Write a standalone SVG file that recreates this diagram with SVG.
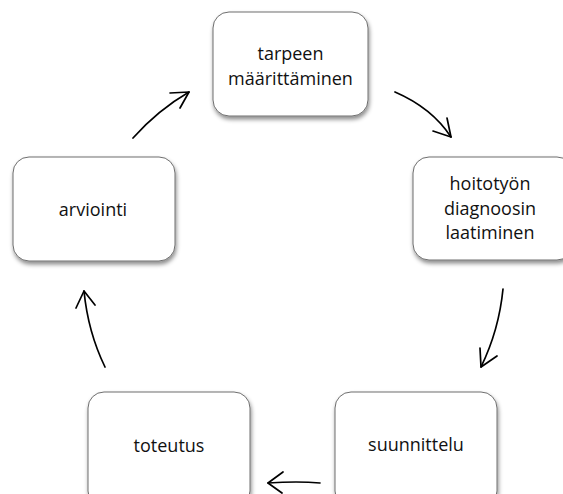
<svg xmlns="http://www.w3.org/2000/svg" width="563" height="494" viewBox="0 0 563 494">
<defs>
<filter id="sh" x="-10%" y="-10%" width="130%" height="140%">
<feDropShadow dx="1" dy="3" stdDeviation="2" flood-color="#000" flood-opacity="0.45"/>
</filter>
<style>
.box{fill:#fff;stroke:#6e6e6e;stroke-width:1;filter:url(#sh)}
.t{font-family:"Open Sans","Liberation Sans",sans-serif;font-size:18px;fill:#111;text-anchor:middle}
.c{fill:none;stroke:#000;stroke-width:1.7;stroke-linecap:round;stroke-linejoin:round}
</style>
</defs>
<rect width="563" height="494" fill="#fff"/>
<g id="tarpeen">
<rect class="box" x="213" y="12" width="155" height="104" rx="16"/>
<text class="t" x="290.5" y="60">tarpeen</text>
<text class="t" x="290.5" y="85">määrittäminen</text>
</g>
<g id="hoitotyon">
<rect class="box" x="413" y="157" width="160" height="103" rx="16"/>
<text class="t" x="490" y="190">hoitotyön</text>
<text class="t" x="490" y="215">diagnoosin</text>
<text class="t" x="490" y="239">laatiminen</text>
</g>
<g id="suunnittelu">
<rect class="box" x="335" y="392" width="162" height="115" rx="16"/>
<text class="t" x="416" y="451">suunnittelu</text>
</g>
<g id="toteutus">
<rect class="box" x="88" y="392" width="162" height="115" rx="16"/>
<text class="t" x="169" y="452">toteutus</text>
</g>
<g id="arviointi">
<rect class="box" x="13" y="157" width="162" height="104" rx="16"/>
<text class="t" x="93" y="216">arviointi</text>
</g>
<g id="connectors">
<path class="c" d="M133,138 Q158,110 189,92"/>
<path class="c" d="M170,93 L189,92 L180,108"/>
<path class="c" d="M395,92 Q432,108 451,137"/>
<path class="c" d="M433,131 L451,137 L447,118"/>
<path class="c" d="M503,289 Q499,330 481,367"/>
<path class="c" d="M480,348 L481,367 L497,356"/>
<path class="c" d="M320,483 Q298,481 268,483"/>
<path class="c" d="M283,472 L268,483 L282,493"/>
<path class="c" d="M105,367 Q88,332 84,291"/>
<path class="c" d="M76,308 L84,291 L95,305"/>
</g>
</svg>
